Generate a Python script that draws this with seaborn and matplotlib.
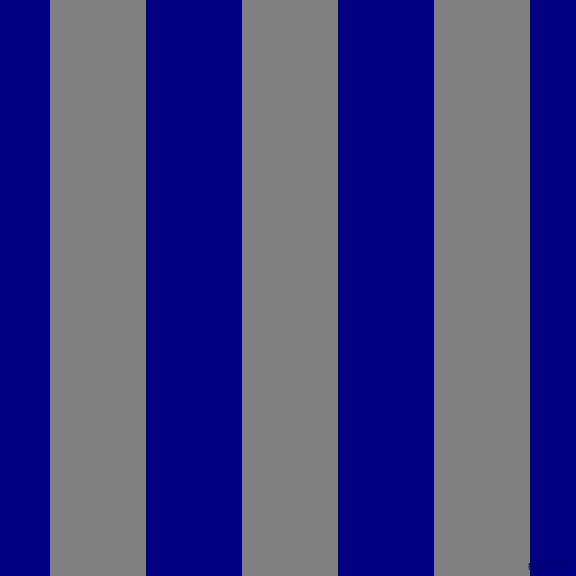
import matplotlib
matplotlib.use("Agg")
import matplotlib.pyplot as plt
import seaborn as sns
import pandas as pd

stripe_centers = [98, 290, 482]
stripe_heights = [1, 1, 1]
watermark = "pixlis.com"

df = pd.DataFrame({"x": stripe_centers, "h": stripe_heights})

fig = plt.figure(figsize=(5.76, 5.76), dpi=100)
ax = fig.add_axes([0, 0, 1, 1])
ax.set_facecolor("#000080")
sns.barplot(data=df, x="x", y="h", native_scale=True, width=0.5,
            color="#808080", saturation=1, edgecolor="none", linewidth=0, ax=ax)
ax.set_xlim(0, 576)
ax.set_ylim(0, 1)
ax.axis("off")
ax.add_patch(plt.Rectangle((0, 0), 1, 1, transform=ax.transAxes, color="#000080", zorder=-1))
fig.text(548 / 576, 1 - 566 / 576, watermark, ha="center", va="center",
         fontsize=6, color="#00006a")
fig.savefig("out.png", dpi=100, facecolor="#000080")
